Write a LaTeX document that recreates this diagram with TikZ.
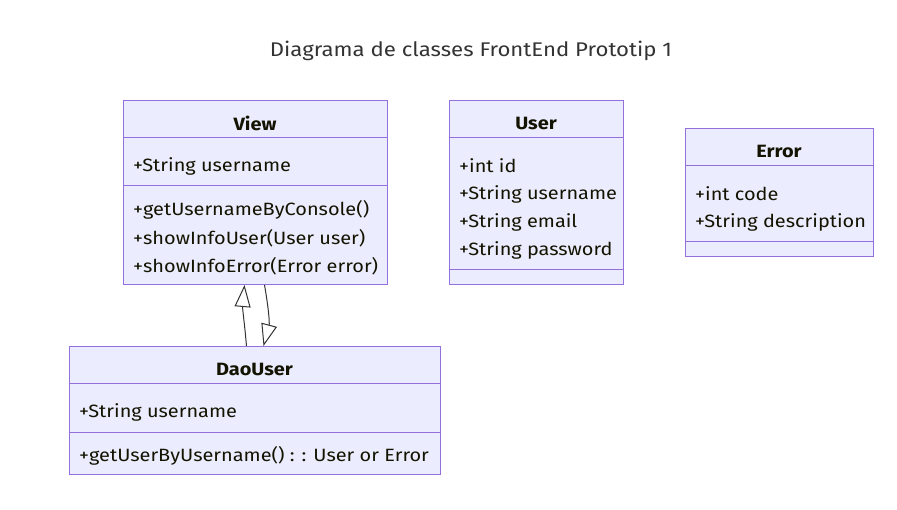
\documentclass[tikz,border=0pt]{standalone}
\usepackage{fontspec}
\setmainfont{Fira Sans}[FakeStretch=1.12]
\usetikzlibrary{arrows.meta,positioning}
\definecolor{umlfill}{HTML}{ECECFF}
\definecolor{umlborder}{HTML}{9370DB}
\definecolor{umltext}{HTML}{333333}
\definecolor{classtext}{HTML}{131300}

\begin{document}
\begin{tikzpicture}[x=1pt, y=-1pt,
  classbox/.style={draw=umlborder, fill=umlfill, line width=1pt, anchor=north west, inner sep=0pt},
  classname/.style={font=\fontsize{17.8}{21}\selectfont\bfseries, text=classtext, inner sep=0pt},
  member/.style={anchor=west, inner sep=0pt, font=\fontsize{17.8}{21}\selectfont, text=classtext},
  divider/.style={draw=umlborder, line width=1pt},
  inherit/.style={draw=umltext, line width=1pt, -{Triangle[open, length=22pt, width=16pt]}}
]

\useasboundingbox (0,0) rectangle (897,510);

% Titol
\node[font=\fontsize{19.8}{24}\selectfont, text=umltext] (titol) at (471,51) {Diagrama de classes FrontEnd Prototip 1};

% Classe View
\node[classbox, minimum width=264pt, minimum height=184pt] (view) at (123,100) {};
\draw[divider] ([yshift=-38pt]view.north west) -- ([yshift=-38pt]view.north east);
\draw[divider] ([yshift=-86pt]view.north west) -- ([yshift=-86pt]view.north east);
\node[classname] (viewname) at (255,123) {View};
\node[member] (viewattr) at (133,166) {+String username};
\node[member] (viewm1) at (133,210) {+getUsernameByConsole()};
\node[member] (viewm2) at (133,238) {+showInfoUser(User user)};
\node[member] (viewm3) at (133,266) {+showInfoError(Error error)};

% Classe User
\node[classbox, minimum width=174pt, minimum height=184pt] (user) at (449,100) {};
\draw[divider] ([yshift=-38pt]user.north west) -- ([yshift=-38pt]user.north east);
\draw[divider] ([yshift=-170pt]user.north west) -- ([yshift=-170pt]user.north east);
\node[classname] (username) at (536,123) {User};
\node[member] (usera1) at (459,166) {+int id};
\node[member] (usera2) at (459,194) {+String username};
\node[member] (usera3) at (459,222) {+String email};
\node[member] (usera4) at (459,250) {+String password};

% Classe Error
\node[classbox, minimum width=188pt, minimum height=128pt] (error) at (685,128) {};
\draw[divider] ([yshift=-38pt]error.north west) -- ([yshift=-38pt]error.north east);
\draw[divider] ([yshift=-114pt]error.north west) -- ([yshift=-114pt]error.north east);
\node[classname] (errorname) at (779,151) {Error};
\node[member] (errora1) at (695,194) {+int code};
\node[member] (errora2) at (695,222) {+String description};

% Classe DaoUser
\node[classbox, minimum width=371pt, minimum height=128pt] (dao) at (69,346) {};
\draw[divider] ([yshift=-38pt]dao.north west) -- ([yshift=-38pt]dao.north east);
\draw[divider] ([yshift=-87pt]dao.north west) -- ([yshift=-87pt]dao.north east);
\node[classname] (daoname) at (254.5,369) {DaoUser};
\node[member] (daoattr) at (79,412) {+String username};
\node[member] (daom1) at (79,456) {+getUserByUsername() : : User or Error};

% Relacions
\draw[inherit] ([xshift=-8.5pt]dao.north) to[out=95, in=-95] ([xshift=-11pt]view.south);
\draw[inherit] ([xshift=9pt]view.south) to[out=-80, in=75] ([xshift=8.5pt]dao.north);

\end{tikzpicture}
\end{document}
